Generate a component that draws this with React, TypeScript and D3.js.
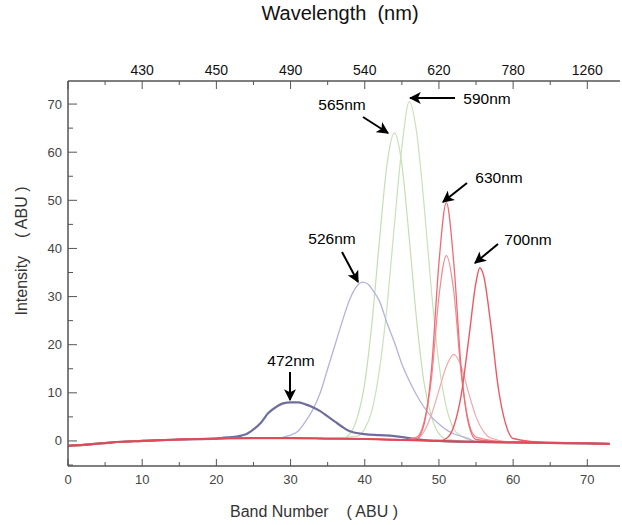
import React, { useEffect, useRef } from "react";
import * as d3 from "d3";

// band number samples of the common base level
const baseline: [number, number][] = [
  [0, -1], [3, -0.7], [6, -0.3], [10, 0], [15, 0.3], [20, 0.5], [25, 0.6], [30, 0.6],
  [35, 0.5], [40, 0.4], [45, 0.2], [50, 0], [55, -0.2], [60, -0.3], [65, -0.4], [70, -0.5], [73, -0.6],
];

const peak472: [number, number][] = [
  [21, 0.7], [22, 0.8], [24, 1.4], [25, 2.4], [26, 3.8], [27, 5.8], [28, 7], [29, 7.8], [30, 8], [31, 8],
  [32, 7.6], [33, 7], [34, 6.2], [35, 5.1], [36, 4], [37, 2.9], [38, 2], [40, 1.4], [42, 1.2], [44, 1],
  [46, 0.6], [48, 0.2],
];
const peak526: [number, number][] = [
  [28, 0.6], [30, 1.2], [31, 2], [32, 4], [33, 6.5], [34, 10], [35, 15], [36, 20], [37, 25], [38, 29.5],
  [39, 32.3], [39.7, 33], [40.5, 32.5], [41, 31.5], [42, 29], [43, 24.5], [44, 20.5], [45, 16], [46, 12.5],
  [47, 9.5], [48, 7], [49, 5], [50, 3.5], [51, 2.3], [52, 1.5], [54, 0.5],
];
const peak565: [number, number][] = [
  [37, 0.5], [38, 1.5], [39, 4.9], [40, 12], [41, 25], [42, 42], [43, 57.5], [44, 64], [45, 57.5],
  [46, 42], [47, 25], [48, 12], [49, 5], [50, 1.5], [51, 0.4],
];
const peak590: [number, number][] = [
  [39, 1], [40, 2.5], [41, 6.5], [42, 15], [43, 28], [44, 45], [45, 61], [46, 70.5], [47, 64], [48, 49],
  [49, 31], [50, 16], [51, 7], [52, 2.5], [53, 1], [54, 0.2],
];
const peak630a: [number, number][] = [
  [47, 0.5], [48, 3.5], [49, 15], [50, 37], [51, 49.5], [52, 37], [53, 15], [54, 3.5], [55, 0.3],
];
const peak630b: [number, number][] = [
  [47, 0.8], [48, 4], [49, 13], [50, 30], [51, 38.5], [52, 31], [53, 14], [54, 4], [55, 0.8],
];
const peak630c: [number, number][] = [
  [47, 0.5], [48, 2], [49, 5.5], [50, 10.5], [51, 15.5], [52, 18], [53, 15.5], [54, 10], [55, 5],
  [56, 2], [57, 0.6],
];
const peak700: [number, number][] = [
  [51, 0.5], [52, 3], [53, 9.5], [54, 21], [55, 33], [55.5, 36], [56, 34.5], [57, 24], [58, 11],
  [59, 3.5], [60, 0.5],
];

const seriesNames = ["565", "590", "526", "472", "630c", "630b", "630a", "700"];
const seriesPeaks = [peak565, peak590, peak526, peak472, peak630c, peak630b, peak630a, peak700];
const seriesColors = ["#c3dfb2", "#c8e2b9", "#b3b3dd", "#6e6e9c", "#f5a7aa", "#f38a90", "#ef6b74", "#eb5a64"];
const seriesWidths = [1.2, 1.2, 1.3, 2.2, 1.2, 1.2, 1.3, 1.4];

const bottomTicks = [0, 10, 20, 30, 40, 50, 60, 70];
const leftTicks = [0, 10, 20, 30, 40, 50, 60, 70];
const topTickBands = [10, 20, 30, 40, 50, 60, 70];
const topTickLabels = ["430", "450", "490", "540", "620", "780", "1260"];

const noteLabels = ["472nm", "526nm", "565nm", "590nm", "630nm", "700nm"];

const FONT = "'Liberation Sans', Arial, sans-serif";

export default function App() {
  const ref = useRef<SVGSVGElement>(null);

  useEffect(() => {
    const svg = d3.select(ref.current);
    svg.selectAll("*").remove();

    const x = d3.scaleLinear().domain([0, 74]).range([68, 617]);
    const y = d3.scaleLinear().domain([-5, 75]).range([465, 80]);

    const defs = svg.append("defs");
    defs.append("marker")
      .attr("id", "head")
      .attr("viewBox", "0 0 10 10")
      .attr("refX", 9).attr("refY", 5)
      .attr("markerWidth", 6).attr("markerHeight", 6)
      .attr("markerUnits", "strokeWidth")
      .attr("orient", "auto")
      .append("path")
      .attr("d", "M0,0L10,5L0,10L2.5,5Z")
      .attr("fill", "#000");

    const line = d3.line<[number, number]>()
      .x(d => x(d[0]))
      .y(d => y(d[1]))
      .curve(d3.curveMonotoneX);

    seriesPeaks.forEach((peaks, i) => {
      const first = peaks[0][0], last = peaks[peaks.length - 1][0];
      const pts: [number, number][] = [
        ...baseline.filter(d => d[0] < first),
        ...peaks,
        ...baseline.filter(d => d[0] > last),
      ];
      svg.append("path")
        .datum(pts)
        .attr("class", "s" + seriesNames[i])
        .attr("d", line)
        .attr("fill", "none")
        .attr("stroke", seriesColors[i])
        .attr("stroke-width", seriesWidths[i]);
    });

    // thick red base level on top
    svg.append("path")
      .datum(baseline)
      .attr("d", line)
      .attr("fill", "none")
      .attr("stroke", "#dc4653")
      .attr("stroke-width", 2.2)
      .attr("stroke-opacity", 0.8);

    const axisColor = "#555";
    const g = svg.append("g").attr("stroke", axisColor);

    // frame lines
    g.append("line").attr("x1", 68).attr("x2", 68).attr("y1", 81).attr("y2", 466).attr("stroke-width", 1.5);
    g.append("line").attr("x1", 68).attr("x2", 620).attr("y1", 466).attr("y2", 466).attr("stroke-width", 1.5);
    g.append("line").attr("x1", 68).attr("x2", 620).attr("y1", 81).attr("y2", 81).attr("stroke-width", 1.5);

    // bottom + top minor/major ticks
    d3.range(0, 75, 5).forEach(b => {
      const major = b % 10 === 0;
      g.append("line").attr("x1", x(b)).attr("x2", x(b))
        .attr("y1", 466).attr("y2", 466 - (major ? 7 : 4)).attr("stroke-width", 1);
      g.append("line").attr("x1", x(b)).attr("x2", x(b))
        .attr("y1", 81).attr("y2", 81 + (major ? 8 : 4)).attr("stroke-width", 1);
    });
    // left ticks
    d3.range(-5, 75, 5).forEach(v => {
      const major = v % 10 === 0;
      g.append("line").attr("x1", 68).attr("x2", 68 + (major ? 9 : 5))
        .attr("y1", y(v)).attr("y2", y(v)).attr("stroke-width", 1);
    });

    svg.append("g").selectAll("text").data(bottomTicks).join("text")
      .attr("x", d => x(d)).attr("y", 484)
      .attr("text-anchor", "middle")
      .attr("font-family", FONT).attr("font-size", 13).attr("fill", "#444")
      .text(d => d);

    svg.append("g").selectAll("text").data(leftTicks).join("text")
      .attr("x", 62).attr("y", d => y(d) + 4.5)
      .attr("text-anchor", "end")
      .attr("font-family", FONT).attr("font-size", 13).attr("fill", "#444")
      .text(d => d);

    svg.append("g").selectAll("text").data(topTickBands).join("text")
      .attr("x", d => x(d)).attr("y", 75)
      .attr("text-anchor", "middle")
      .attr("font-family", FONT).attr("font-size", 14).attr("fill", "#111")
      .text((d, i) => topTickLabels[i]);

    svg.append("text")
      .attr("x", 340).attr("y", 20)
      .attr("text-anchor", "middle")
      .attr("font-family", FONT).attr("font-size", 20).attr("fill", "#111")
      .style("white-space", "pre")
      .text("Wavelength  (nm)");

    svg.append("text")
      .attr("x", 314).attr("y", 517)
      .attr("text-anchor", "middle")
      .attr("font-family", FONT).attr("font-size", 16).attr("fill", "#333")
      .style("white-space", "pre")
      .text("Band Number    ( ABU )");

    svg.append("text")
      .attr("transform", "translate(27,251) rotate(-90)")
      .attr("text-anchor", "middle")
      .attr("font-family", FONT).attr("font-size", 16).attr("fill", "#333")
      .style("white-space", "pre")
      .text("Intensity    ( ABU )");

    // annotation text position and arrow (start -> tip), in pixels
    const notes = [
      { tx: 291, ty: 366, x1: 290, y1: 372, x2: 290, y2: 400 },
      { tx: 332, ty: 244, x1: 342, y1: 252, x2: 358, y2: 282 },
      { tx: 342, ty: 110, x1: 363, y1: 117, x2: 388, y2: 133 },
      { tx: 487, ty: 104, x1: 455, y1: 98, x2: 410, y2: 98 },
      { tx: 499, ty: 183, x1: 467, y1: 183, x2: 443, y2: 202 },
      { tx: 528, ty: 245, x1: 498, y1: 244, x2: 475, y2: 263 },
    ];
    notes.forEach((n, i) => {
      svg.append("line")
        .attr("x1", n.x1).attr("y1", n.y1).attr("x2", n.x2).attr("y2", n.y2)
        .attr("stroke", "#000").attr("stroke-width", 2)
        .attr("marker-end", "url(#head)");
      svg.append("text")
        .attr("x", n.tx).attr("y", n.ty)
        .attr("text-anchor", "middle")
        .attr("font-family", FONT).attr("font-size", 15.5).attr("fill", "#000")
        .text(noteLabels[i]);
    });
  }, []);

  return (
    <svg
      ref={ref}
      width={622}
      height={525}
      style={{ position: "absolute", left: 0, top: 0, background: "#fff" }}
    />
  );
}
